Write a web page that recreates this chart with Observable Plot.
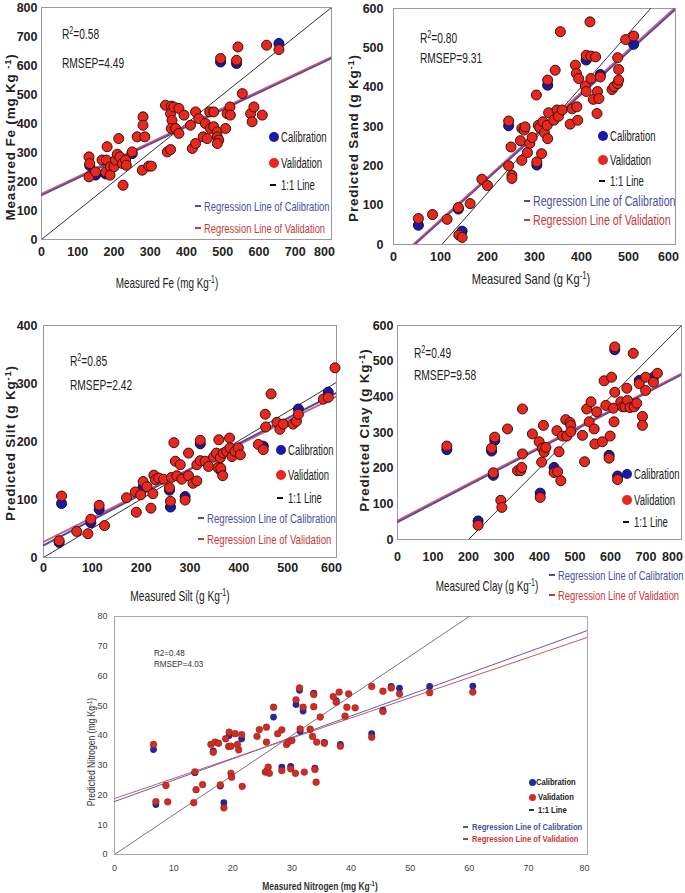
<!DOCTYPE html>
<html><head><meta charset="utf-8">
<script src="https://cdn.jsdelivr.net/npm/d3@7"></script>
<script src="https://cdn.jsdelivr.net/npm/@observablehq/plot@0.6"></script>
<style>
body{margin:0;background:#fff;}
#page{position:relative;width:685px;height:893px;overflow:hidden;font-family:"Liberation Sans",Arial,sans-serif;color:#222;}
.abs{position:absolute;white-space:nowrap;line-height:1;}
sup{font-size:0.7em;vertical-align:0.45em;line-height:0;}
</style></head><body><div id="page"></div>
<script>
// ---------- Fe ----------
const feMeasured = [131,133,131,149,167,181,179,177,190,189,200,204,209,213,216,223,225,232,234,250,264,278,280,280,285,296,303,342,347,356,358,356,360,358,365,370,379,379,393,411,416,425,425,434,446,452,457,464,466,475,475,485,485,489,485,494,508,512,520,521,538,542,554,577,581,586,609,621,655];
const fePredicted = [285,262,216,233,274,320,274,233,251,222,251,274,294,348,285,262,187,274,256,302,354,239,423,394,354,253,253,463,302,310,460,434,411,383,457,383,452,366,429,394,314,331,440,417,354,400,348,440,383,440,389,371,354,343,331,624,383,434,457,429,618,664,503,434,406,457,429,670,655];
const feCalMeasured = [149,133,177,250,494,538,655];
const feCalPredicted = [222,255,226,296,612,607,676];
const feLineX = [0,800], feOneY = [0,800], feRegCalY = [153,625], feRegValY = [157,629];
const feTicks = [0,100,200,300,400,500,600,700,800];

// ---------- Sand ----------
const sandMeasured = [53,83,114,138,139,146,163,188,200,245,245,250,252,252,270,273,273,278,280,285,290,295,304,305,308,311,315,318,321,327,328,330,328,341,344,348,351,355,359,376,380,387,389,390,392,394,408,410,410,418,420,420,425,430,433,434,437,440,465,469,477,479,479,477,494,511];
const sandPredicted = [66,76,64,94,24,18,104,166,150,314,200,248,176,168,264,214,295,291,299,234,257,272,380,210,303,297,231,312,284,303,269,335,418,316,443,342,326,541,342,306,345,456,435,350,316,422,403,389,481,566,479,422,369,477,333,389,371,426,394,401,409,418,445,475,521,530];
const sandCalMeasured = [53,138,146,245,305,328,410,440,511];
const sandCalPredicted = [49,90,34,302,202,405,469,432,509];
const sandOneX = [103,547], sandOneY = [0,600];
const sandRegX = [45,600], sandRegCalY = [0,598], sandRegValX = [42,600], sandRegValY = [0,603];
const sandTicks = [0,100,200,300,400,500,600];

// ---------- Silt ----------
const siltMeasured = [32,37,68,91,97,114,125,170,188,190,199,204,212,220,224,226,229,236,246,258,260,262,267,270,273,280,283,290,297,297,306,314,314,321,321,331,338,348,354,357,359,362,363,367,368,375,381,382,386,392,399,403,440,450,454,455,466,478,484,491,511,518,522,573,583,597];
const siltPredicted = [29,106,45,41,66,90,55,103,113,78,108,131,122,85,110,142,134,137,135,120,97,138,198,166,141,160,135,99,180,141,128,132,160,167,202,166,157,173,180,155,203,172,154,141,180,183,206,189,174,183,189,177,195,186,247,225,282,233,221,230,230,235,247,273,276,327];
const siltCalMeasured = [32,37,97,114,204,258,260,290,321,363,450,522,583];
const siltCalPredicted = [26,93,60,83,122,116,87,105,196,150,192,256,285];
const siltLineX = [0,600], siltOneY = [0,302], siltRegCalY = [21,284], siltRegValY = [27,278];
const siltXTicks = [0,100,200,300,400,500,600], siltYTicks = [0,100,200,300,400];

// ---------- Clay ----------
const clayMeasured = [139,227,265,270,274,291,294,310,338,347,350,352,352,380,399,402,406,408,411,413,418,441,451,449,455,460,465,474,477,486,488,488,521,527,533,540,545,554,556,561,577,582,587,596,599,603,608,610,612,612,620,629,634,641,646,648,655,664,667,674,681,690,690,699,699,721,732];
const clayPredicted = [262,40,256,187,287,110,90,310,193,193,202,240,366,296,274,118,217,256,320,245,258,188,190,305,246,165,290,336,290,328,320,302,292,218,366,330,386,310,268,358,274,445,376,228,290,455,368,330,413,540,168,386,372,372,424,390,370,522,372,382,437,345,320,418,455,441,466];
const clayCalMeasured = [139,227,265,270,274,402,441,596,612,620,681,721];
const clayCalPredicted = [252,52,248,180,278,130,202,236,532,178,446,455];
const clayLineX = [0,800], clayRegCalY = [49,462], clayRegValY = [53,465];
const clayOneX = [200,800], clayOneY = [0,600];
const clayXTicks = [0,100,200,300,400,500,600,700,800], clayYTicks = [0,100,200,300,400,500,600];

// ---------- Nitrogen ----------
const nMeasured = [6.6,7.0,8.7,9.0,13.4,13.6,13.8,14.9,16.3,16.7,17.0,17.6,17.9,18.5,18.8,19.3,19.4,19.7,19.7,19.8,20.4,20.8,21.0,21.5,21.6,24.1,24.5,25.7,25.7,25.5,25.8,26.0,26.2,26.9,27.6,28.3,28.3,29.1,29.4,30.0,29.8,30.6,30.7,31.3,31.4,31.9,32.1,33.7,33.7,33.1,33.5,33.9,34.1,34.2,34.8,35.5,37.0,37.5,38.0,38.2,39.0,39.3,39.6,40.7,43.5,43.5,45.4,45.4,46.8,48.2,53.3,60.6];
const nPredicted = [37,17.8,23.2,17.7,17.4,27.8,21.8,23.5,37,34.4,37.8,37.4,23.4,15.7,38.9,36.3,41.1,36.4,27.3,26,40.6,37,35.2,40.3,22.9,39.7,42,42.8,37.8,27.7,28.2,29.4,27.3,49.5,40.6,41.9,28.2,37,37.8,38.3,28.8,27.3,52,56,42.2,49.5,27.7,53.8,49.7,42.1,39.7,28.6,24.3,37.8,46.2,37.4,53.1,51.2,54.6,36.4,46.5,49.5,54,49.3,56.5,39.4,54.9,48.1,56.0,54.0,54.4,54.6];
const nCalMeasured = [6.6,7.0,13.6,16.7,17.9,18.5,19.4,21.5,26.9,28.3,29.8,30.7,31.3,31.4,31.9,33.7,33.9,35.5,37.5,38.2,43.5,45.4,46.8,48.2,53.3,60.6];
const nCalPredicted = [35.3,16.8,27.5,34.8,23.0,17.4,40,38.9,46.2,29.4,29.6,50.4,55.2,41.4,48.2,54.2,29.0,37.7,51.7,37.0,40.6,48.5,56.5,55.9,56.5,56.6];
const nLineX = [0,80], nRegCalY = [17.8,75.3], nRegValY = [18.8,73.0];
const nOneX = [0,60], nOneY = [0,80];
const nTicks = [0,10,20,30,40,50,60,70,80];

// ---------- helpers ----------
const page = document.getElementById("page");
const SANS = '"Liberation Sans",Arial,sans-serif';
const zip = (xs, ys) => xs.map((x, i) => ({x, y: ys[i]}));

function panel(o) {
  const mL = 50, mR = 12, mT = 10, mB = 34;
  const w = o.R - o.L + mL + mR, h = o.B - o.T + mT + mB;
  const xt = o.xTicks.slice(0, -1), xLast = o.xTicks.slice(-1);
  const chart = Plot.plot({
    width: w, height: h, marginLeft: mL, marginRight: mR, marginTop: mT, marginBottom: mB,
    x: {domain: o.xDomain}, y: {domain: o.yDomain},
    style: {fontFamily: SANS, fontSize: o.fs + "px", fontWeight: o.fw, color: o.tickColor, background: "transparent", overflow: "visible"},
    marks: [
      Plot.axisX(xt, {tickSize: 0, tickPadding: o.padX, label: null}),
      Plot.axisX(xLast, {tickSize: 0, tickPadding: o.padX, label: null, dx: o.lastDx}),
      Plot.axisY(o.yTicks, {tickSize: 0, tickPadding: o.padY, label: null}),
      Plot.frame({stroke: o.frame, strokeWidth: 1}),
      Plot.line(o.one, {x: "x", y: "y", stroke: o.oneColor, strokeWidth: o.oneW, clip: true}),
      Plot.line(o.regCal, {x: "x", y: "y", stroke: o.regCalColor, strokeWidth: o.regW, clip: true}),
      Plot.line(o.regVal, {x: "x", y: "y", stroke: o.regValColor, strokeWidth: o.regW, strokeOpacity: o.regValOp, clip: true}),
      Plot.dot(o.cal, {x: "x", y: "y", r: o.r, fill: o.calFill, stroke: o.calStroke, strokeWidth: o.dotSW}),
      Plot.dot(o.val, {x: "x", y: "y", r: o.r, fill: o.valFill, stroke: o.valStroke, strokeWidth: o.dotSW})
    ]
  });
  chart.style.position = "absolute";
  chart.style.left = (o.L - mL) + "px";
  chart.style.top = (o.T - mT) + "px";
  page.appendChild(chart);
}

function txt(x, y, html, css = {}, center = false, sx = 0.7) {
  const d = document.createElement("div");
  d.className = "abs";
  d.style.left = x + "px"; d.style.top = y + "px";
  if (center) { d.style.transformOrigin = "center center"; d.style.transform = `translate(-50%,-50%) scaleX(${sx})`; }
  else { d.style.transformOrigin = "left center"; d.style.transform = `translateY(-50%) scaleX(${sx})`; }
  d.innerHTML = html;
  Object.assign(d.style, css);
  page.appendChild(d);
}
function ylab(cx, cy, html, css, sx = 1) {
  const d = document.createElement("div");
  d.className = "abs";
  d.style.left = cx + "px"; d.style.top = cy + "px";
  d.style.transformOrigin = "center center";
  d.style.transform = `translate(-50%,-50%) rotate(-90deg) scaleX(${sx})`;
  d.innerHTML = html;
  Object.assign(d.style, css);
  page.appendChild(d);
}
function dot(cx, cy, r, color) {
  const d = document.createElement("div");
  d.className = "abs";
  Object.assign(d.style, {left: (cx - r) + "px", top: (cy - r) + "px", width: 2 * r + "px", height: 2 * r + "px", borderRadius: "50%", background: color});
  page.appendChild(d);
}
function dash(x, y, w, color, t = 2) {
  const d = document.createElement("div");
  d.className = "abs";
  Object.assign(d.style, {left: x + "px", top: (y - t / 2) + "px", width: w + "px", height: t + "px", background: color});
  page.appendChild(d);
}

const BIG = {
  fs: 12.5, fw: "bold", tickColor: "#222", frame: "#9a9a9a", lastDx: -7,
  oneColor: "#333", oneW: 1, regCalColor: "#4a4aa0", regValColor: "#b8406a", regW: 2, regValOp: 0.8,
  r: 5, calFill: "#1a1aa6", calStroke: "#0a0a40", valFill: "#e8281e", valStroke: "#3a0f0a", dotSW: 1
};

// Fe
panel({...BIG, L: 41, R: 331, T: 7, B: 239, xDomain: [0,800], yDomain: [0,800], xTicks: feTicks, yTicks: feTicks, padX: 8, padY: 4,
  one: zip(feLineX, feOneY), regCal: zip(feLineX, feRegCalY), regVal: zip(feLineX, feRegValY),
  cal: zip(feCalMeasured, feCalPredicted), val: zip(feMeasured, fePredicted)});
// Sand
panel({...BIG, L: 393, R: 675, T: 8, B: 244, xDomain: [0,600], yDomain: [0,600], xTicks: sandTicks, yTicks: sandTicks, padX: 8, padY: 10,
  one: zip(sandOneX, sandOneY), regCal: zip(sandRegX, sandRegCalY), regVal: zip(sandRegValX, sandRegValY),
  cal: zip(sandCalMeasured, sandCalPredicted), val: zip(sandMeasured, sandPredicted)});
// Silt
panel({...BIG, L: 43, R: 336, T: 325, B: 557, xDomain: [0,600], yDomain: [0,400], xTicks: siltXTicks, yTicks: siltYTicks, padX: 6, padY: 6, lastDx: -5,
  one: zip(siltLineX, siltOneY), regCal: zip(siltLineX, siltRegCalY), regVal: zip(siltLineX, siltRegValY),
  cal: zip(siltCalMeasured, siltCalPredicted), val: zip(siltMeasured, siltPredicted)});
// Clay
panel({...BIG, L: 397, R: 681, T: 325, B: 539, xDomain: [0,800], yDomain: [0,600], xTicks: clayXTicks, yTicks: clayYTicks, padX: 13, padY: 4, lastDx: -9,
  one: zip(clayOneX, clayOneY), regCal: zip(clayLineX, clayRegCalY), regVal: zip(clayLineX, clayRegValY),
  cal: zip(clayCalMeasured, clayCalPredicted), val: zip(clayMeasured, clayPredicted)});
// Nitrogen
panel({fs: 9, fw: "normal", tickColor: "#444", frame: "#a8a8a8", lastDx: -3,
  oneColor: "#777", oneW: 1, regCalColor: "#5560b4", regValColor: "#c85a5a", regW: 1, regValOp: 1,
  r: 3.4, calFill: "#1f2a9e", calStroke: "none", valFill: "#cf2d24", valStroke: "#7a1a14", dotSW: 0.4,
  L: 114, R: 587, T: 616, B: 854, xDomain: [0,80], yDomain: [0,80], xTicks: nTicks, yTicks: nTicks, padX: 10, padY: 7,
  one: zip(nOneX, nOneY), regCal: zip(nLineX, nRegCalY), regVal: zip(nLineX, nRegValY),
  cal: zip(nCalMeasured, nCalPredicted), val: zip(nMeasured, nPredicted)});

// ---------- text, legends ----------
const blueT = "#4b50a0", redT = "#c43a3a", calDot = "#1a1aa6", valDot = "#e8281e";
const ann = {fontSize: "15px", color: "#222"};
const leg = {fontSize: "14px", color: "#222"};
const yl = {fontWeight: "bold", fontSize: "13.5px", letterSpacing: "0.8px", color: "#222"};
const xl = {fontSize: "15px", color: "#222"};

function bigLegend(dx, dy1, dy2, dy3, rx, ry1, ry2, rfs, rsx) {
  const legR = {fontSize: rfs + "px"};
  dot(dx, dy1, 5, calDot); txt(dx + 7, dy1, "Calibration", leg, false, 0.68);
  dot(dx, dy2, 5, valDot); txt(dx + 7, dy2, "Validation", leg, false, 0.68);
  dash(dx - 4, dy3, 6, "#111"); txt(dx + 7, dy3, "1:1 Line", leg, false, 0.68);
  dash(rx - 9, ry1, 6, blueT); txt(rx, ry1, "Regression Line of Calibration", {...legR, color: blueT}, false, rsx);
  dash(rx - 9, ry2, 6, redT); txt(rx, ry2, "Regression Line of Validation", {...legR, color: redT}, false, rsx);
}

// Fe
txt(62, 33, "R<sup>2</sup>=0.58", ann, false, 0.68); txt(62, 62, "RMSEP=4.49", ann, false, 0.68);
bigLegend(274, 137, 163, 185, 204, 206, 228, 13, 0.72);
ylab(11, 137, "Measured Fe (mg Kg <sup>-1</sup>)", yl);
txt(167, 282, "Measured Fe (mg Kg<sup>-1</sup>)", xl, true, 0.66);
// Sand
txt(420, 37, "R<sup>2</sup>=0.80", ann, false, 0.68); txt(420, 57, "RMSEP=9.31", ann, false, 0.68);
bigLegend(603, 136, 160, 181, 533, 201, 220, 14, 0.76);
ylab(354, 138, "Predicted Sand (g Kg<sup>-1</sup>)", yl);
txt(531, 278, "Measured Sand (g Kg<sup>-1</sup>)", xl, true, 0.74);
// Silt
txt(70, 360, "R<sup>2</sup>=0.85", ann, false, 0.68); txt(70, 384, "RMSEP=2.42", ann, false, 0.68);
bigLegend(281, 450, 475, 498, 207, 518, 539, 13, 0.74);
ylab(11, 443, "Predicted Silt (g Kg<sup>-1</sup>)", yl);
txt(180, 595, "Measured Silt (g Kg<sup>-1</sup>)", xl, true, 0.68);
// Clay
txt(414, 352, "R<sup>2</sup>=0.49", ann, false, 0.68); txt(414, 374, "RMSEP=9.58", ann, false, 0.68);
bigLegend(627, 474, 500, 522, 558, 575, 595, 13, 0.72);
ylab(365, 430, "Predicted Clay (g Kg<sup>-1</sup>)", yl);
txt(487, 585, "Measured Clay (g Kg<sup>-1</sup>)", xl, true, 0.66);
// Nitrogen
const small = {fontSize: "9.5px", color: "#333"};
txt(154, 653, "R2=0.48", small, false, 0.85); txt(154, 664, "RMSEP=4.03", small, false, 0.85);
const sl = {fontSize: "9.5px", color: "#222", fontWeight: "bold"};
dot(532, 782, 3.5, "#1f2a9e"); txt(536, 782, "Calibration", sl, false, 0.8);
dot(532, 797, 3.5, "#cf2d24"); txt(538, 797, "Validation", sl, false, 0.8);
dash(529, 810, 5, "#333", 1.5); txt(538, 810, "1:1 Line", sl, false, 0.8);
dash(463, 827, 5, blueT, 1.5); txt(472, 827, "Regression Line of Calibration", {...sl, color: blueT}, false, 0.8);
dash(463, 839, 5, redT, 1.5); txt(472, 839, "Regression Line of Validation", {...sl, color: redT}, false, 0.8);
ylab(92, 752, "Predicted Nitrogen (mg Kg<sup>-1</sup>)", {fontSize: "10px", color: "#333"}, 0.85);
txt(320, 886, "Measured Nitrogen (mg Kg<sup>-1</sup>)", {fontSize: "10.5px", color: "#333", fontWeight: "bold"}, true, 0.8);
</script></body></html>
